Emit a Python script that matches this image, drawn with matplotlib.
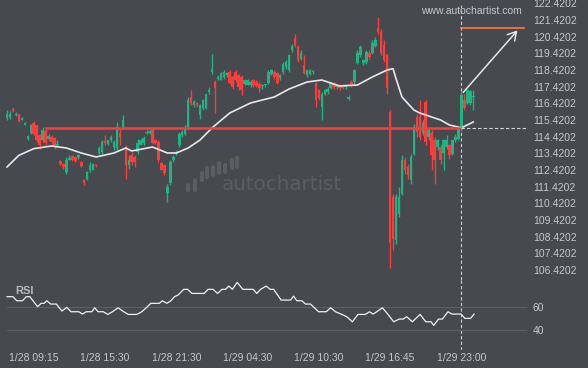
import numpy as np
import matplotlib
matplotlib.use("Agg")
import matplotlib.pyplot as plt
from matplotlib.lines import Line2D

# ---- data ----
opens = [115.54, 115.6, 116.1, 115.7, 115.75, 115.45, 115.15, 114.3, 114.65, 115.25,
         115.1, 114.5, 114.2, 114.75, 114.3, 114.4, 114.35, 113.9, 112.95, 112.8,
         112.3, 113.05, 113.25, 113.2, 113.2, 112.9, 111.85, 111.9, 112.4, 112.45,
         112.7, 113.45, 113.5, 114.15, 114.0, 114.2, 113.8, 113.75, 114.65, 115.0,
         113.8, 112.7, 113.3, 113.2, 113.5, 113.95, 114.05, 114.65, 114.65, 114.95,
         114.2, 114.1, 112.85, 112.7, 111.05, 111.65, 113.0, 113.4, 113.9, 114.5,
         114.6, 115.0, 116.8, 116.35, 116.45, 115.7, 116.15, 116.15, 117.1, 118.3,
         117.7, 117.9, 117.85, 118.0, 118.1, 118.3, 118.0, 118.3, 118.1, 118.0,
         117.6, 117.55, 117.5, 117.8, 117.7, 117.6, 117.45, 117.5, 117.65, 118.2,
         118.3, 118.25, 117.95, 118.3, 118.6, 118.4, 119.6, 120.35, 119.8, 119.1,
         118.7, 118.1, 118.2, 118.3, 117.65, 117.2, 116.2, 117.0, 117.1, 117.35,
         117.6, 117.4, 117.55, 117.5, 117.4, 116.7, 117.7, 117.7, 118.85, 119.3,
         118.85, 118.9, 119.45, 119.45, 119.85, 120.95, 120.7, 119.95, 119.3, 115.9,
         110.8, 108.2, 109.8, 111.0, 113.0, 112.6, 111.8, 113.4, 115.6, 115.6,
         114.65, 116.5, 114.4, 114.65, 114.2, 113.8, 113.8, 113.45, 113.8, 113.9,
         113.4, 114.2, 114.3, 114.9, 116.6, 116.45, 116.45, 116.8]
highs = [116.0, 115.95, 116.2, 115.9, 115.8, 115.6, 115.3, 114.5, 115.2, 115.35,
         115.15, 114.6, 115.0, 114.9, 114.6, 114.5, 114.4, 114.2, 113.0, 112.85,
         113.2, 113.3, 113.3, 113.25, 113.4, 112.95, 111.9, 112.35, 112.9, 112.85,
         112.8, 113.85, 114.2, 114.5, 114.3, 114.5, 114.2, 115.3, 114.9, 115.7,
         113.9, 113.3, 113.5, 113.3, 114.3, 114.3, 114.45, 114.8, 114.85, 115.0,
         114.3, 114.2, 112.9, 112.8, 111.6, 113.0, 113.3, 113.6, 114.7, 114.8,
         115.1, 116.8, 117.2, 116.6, 116.5, 116.4, 116.7, 117.0, 117.4, 119.4,
         117.8, 118.1, 118.3, 118.45, 118.3, 118.4, 118.1, 118.4, 118.2, 118.1,
         117.9, 117.9, 117.8, 117.9, 117.8, 117.7, 117.6, 117.6, 118.4, 118.5,
         118.4, 118.3, 118.2, 118.9, 119.0, 119.4, 120.0, 120.6, 119.9, 119.6,
         119.3, 118.5, 118.5, 118.4, 117.7, 117.3, 117.1, 117.3, 117.4, 117.7,
         117.7, 117.6, 117.6, 117.6, 117.6, 116.9, 117.8, 118.5, 119.6, 119.9,
         119.1, 119.6, 119.6, 120.2, 120.4, 121.6, 120.9, 120.2, 119.4, 116.0,
         111.0, 111.0, 111.4, 113.3, 113.2, 112.8, 113.4, 115.2, 115.8, 116.6,
         115.4, 116.6, 114.95, 114.8, 114.4, 114.3, 114.0, 114.3, 114.5, 114.0,
         114.3, 114.6, 115.0, 117.1, 117.0, 117.3, 117.25, 117.2]
lows = [115.4, 115.5, 115.9, 115.65, 115.3, 115.4, 115.1, 114.2, 114.6, 114.5,
        114.1, 113.7, 114.1, 113.95, 114.2, 114.0, 113.7, 113.85, 112.75, 112.5,
        112.2, 113.0, 112.95, 112.9, 113.1, 112.6, 111.55, 111.85, 112.3, 112.4,
        112.6, 113.4, 113.4, 113.95, 113.9, 114.1, 113.6, 113.6, 113.9, 114.9,
        111.9, 112.5, 112.7, 112.6, 113.4, 113.9, 113.95, 114.6, 114.6, 114.0,
        114.0, 112.9, 112.4, 112.1, 110.5, 111.5, 112.9, 113.3, 113.8, 114.4,
        114.5, 114.9, 116.3, 116.2, 116.2, 115.5, 116.0, 116.1, 117.0, 118.2,
        115.85, 117.8, 117.8, 117.9, 118.0, 117.6, 117.3, 117.7, 117.2, 116.95,
        117.5, 117.5, 117.4, 117.4, 117.4, 117.1, 117.3, 117.4, 117.6, 118.1,
        117.9, 117.6, 117.8, 118.2, 118.5, 118.3, 119.5, 119.8, 118.9, 119.0,
        118.2, 118.0, 118.1, 118.2, 116.2, 116.6, 115.42, 116.9, 117.0, 117.3,
        117.3, 117.3, 117.2, 117.3, 117.3, 116.6, 117.4, 117.6, 118.8, 119.2,
        118.7, 118.8, 119.1, 119.4, 119.8, 120.6, 119.3, 118.9, 117.0, 106.55,
        107.6, 108.0, 109.6, 110.9, 112.2, 111.9, 111.6, 113.3, 114.4, 114.2,
        114.5, 113.9, 114.2, 112.4, 111.6, 113.6, 112.8, 112.4, 113.7, 113.1,
        113.3, 114.1, 114.2, 114.8, 116.0, 116.4, 116.3, 116.0]
closes = [115.78, 115.8, 115.95, 115.8, 115.35, 115.5, 115.25, 114.45, 115.1, 114.6,
          114.25, 113.9, 114.8, 114.05, 114.45, 114.1, 113.85, 114.0, 112.8, 112.6,
          113.0, 113.15, 113.0, 112.95, 113.3, 112.65, 111.65, 112.3, 112.75, 112.8,
          112.65, 113.75, 114.1, 114.05, 114.2, 114.4, 114.1, 115.0, 114.4, 115.4,
          112.7, 113.0, 112.9, 112.9, 114.05, 114.2, 114.35, 114.7, 114.75, 114.05,
          114.05, 113.0, 112.45, 112.25, 111.4, 112.9, 113.2, 113.5, 114.6, 114.7,
          114.9, 116.6, 116.45, 116.5, 116.3, 116.3, 116.6, 116.95, 117.2, 118.5,
          117.35, 118.0, 118.25, 118.3, 118.25, 117.65, 117.4, 117.8, 117.4, 117.2,
          117.8, 117.8, 117.7, 117.5, 117.45, 117.35, 117.5, 117.55, 118.3, 118.4,
          118.0, 117.65, 118.1, 118.8, 118.9, 119.3, 119.85, 119.9, 119.0, 119.45,
          118.25, 118.4, 118.4, 118.35, 116.65, 116.75, 117.0, 117.2, 117.3, 117.65,
          117.4, 117.55, 117.35, 117.35, 117.5, 116.8, 117.5, 118.4, 119.45, 119.8,
          119.0, 119.5, 119.2, 120.05, 120.2, 120.7, 119.45, 119.0, 117.35, 108.05,
          108.3, 110.8, 110.8, 113.0, 112.4, 112.1, 113.2, 115.0, 114.7, 114.4,
          115.25, 114.1, 114.8, 113.3, 113.0, 114.2, 113.0, 114.2, 114.2, 113.3,
          114.2, 114.4, 114.9, 116.9, 116.15, 117.2, 117.15, 116.85]

ma_idx = [0, 4, 9, 15, 20, 25, 30, 36, 40, 42, 49, 54, 57, 61, 65, 69, 75, 82, 90,
          95, 101, 106, 109, 112, 118, 123, 128, 130, 131, 133, 137, 139, 142, 146,
          149, 153, 157]
ma_vals = [112.6, 113.3, 113.7, 113.86, 113.74, 113.44, 113.2, 113.44, 113.74, 113.56,
           113.8, 113.44, 113.44, 113.74, 114.22, 114.94, 115.84, 116.44, 116.8,
           117.28, 117.7, 117.82, 117.64, 117.46, 117.52, 118.0, 118.42, 118.5, 117.9,
           116.8, 116.02, 115.84, 115.66, 115.42, 115.12, 114.95, 115.3]

rsi_idx = [0, 2, 3.3, 5.2, 6.5, 7.7, 9, 10.3, 11.5, 12.5, 13.4, 14.7, 16.6, 18.5, 20.1,
           21.6, 24.2, 25.4, 26.7, 28.6, 29.5, 30.7, 32.4, 34, 35.5, 37.4, 39.3, 40.8,
           43.7, 45.4, 46.9, 48.4, 51.3, 52.3, 53.8, 55.1, 56.4, 57.6, 59.5, 60.8, 62.3,
           66.4, 67.7, 69.4, 70.9, 72.4, 73.6, 74.7, 75.9, 77.5, 79.4, 82.9, 84.1, 85.4,
           87.3, 88.6, 89.8, 92.3, 95.5, 96.5, 97.6, 99.3, 100.5, 102.2, 104.9, 107.5,
           109, 110.6, 112.5, 114.4, 116.3, 118.2, 120.7, 122, 123.3, 124.5, 126.4,
           128.3, 130.2, 132.1, 133.4, 134.6, 136.5, 139.1, 141, 142.8, 143.7, 145.3,
           146.6, 148.5, 149.8, 152.9, 154.2, 156.1, 157.3]
rsi_vals = [68.6, 68.6, 65.1, 65.1, 68.6, 68.6, 64.3, 60, 62.9, 62.9, 65.1, 62.3, 62.3,
            56.3, 59.4, 55.7, 55.7, 53.7, 55.7, 55.7, 59.1, 55.7, 55.7, 53.4, 55.7,
            59.1, 55.7, 53.4, 53.4, 55.7, 59.1, 62.9, 62.9, 65.1, 62.9, 64.9, 68.6, 70,
            74.9, 74.9, 71.4, 71.4, 74.9, 74.9, 71.4, 74.9, 74.9, 77.7, 74.9, 80.9,
            74.9, 74.9, 71.4, 74.9, 77.7, 74.9, 74.9, 65.7, 65.7, 69.1, 65.1, 65.1,
            62.3, 62.3, 55.7, 55.7, 59.1, 55.7, 53.7, 51.4, 47.1, 53.4, 53.4, 55.7,
            53.7, 55.7, 59.1, 53.4, 47.1, 49.4, 49.4, 51.4, 47.1, 53.4, 47.1, 47.1, 44,
            49.4, 49.4, 55.7, 53.7, 53.7, 50, 50, 53.7]

x_tick_idx = [9, 33, 57, 81, 105, 129, 153]
x_tick_labels = ["1/28 09:15", "1/28 15:30", "1/28 21:30", "1/29 04:30",
                 "1/29 10:30", "1/29 16:45", "1/29 23:00"]
price_ticks = [106.4202 + k for k in range(17)]
rsi_ticks = [40, 60]

level_price = 114.94      # broken support line
level_start = 13
signal_idx = 153          # dotted "now" line
signal_price = 116.95
target_price = 120.92
target_end = 174

# ---- style ----
BG = "#46494e"
GREEN = "#1fb583"
RED = "#ff3b3b"
TXT = "#c6c8cb"
plt.rcParams["font.family"] = ["Liberation Sans", "DejaVu Sans"]

W, H = 588, 368
fig = plt.figure(figsize=(W / 100, H / 100), dpi=100, facecolor=BG)

def px_axes(x0, y0, x1, y1):
    return fig.add_axes([x0 / W, 1 - y1 / H, (x1 - x0) / W, (y1 - y0) / H])

ax = px_axes(0, 0, 527, 280)
rx = px_axes(0, 280, 527, 350)
xlim = (-2.36, 175.1)

for a in (ax, rx):
    a.set_facecolor(BG)
    for s in a.spines.values():
        s.set_visible(False)
    a.set_xlim(*xlim)
    a.yaxis.tick_right()
    a.tick_params(axis="y", length=0, pad=4.3, colors=TXT, labelsize=7.5)

# candles
o = np.array(opens); h = np.array(highs); l = np.array(lows); c = np.array(closes)
idx = np.arange(len(c))
cols = np.where(c >= o, GREEN, RED)
ax.vlines(idx, l, h, colors=cols, lw=1.0, zorder=2)
body = np.maximum(np.abs(c - o), 0.06)
ax.bar(idx, body, bottom=np.minimum(o, c), width=0.85, color=cols, lw=0, zorder=3)

# moving average
ax.plot(ma_idx, ma_vals, color="#e8e8e8", lw=1.2, zorder=4)

# pattern lines
ax.plot([level_start, signal_idx], [level_price, level_price], color=RED, lw=1.8, zorder=5)
ax.plot([signal_idx, xlim[1]], [level_price, level_price], color="#d8d8d8",
        lw=0.8, ls=(0, (3, 2)), zorder=5)
ax.plot([signal_idx, target_end], [target_price, target_price], color="#ff7a45", lw=1.2, zorder=5)
ax.annotate("", xy=(target_end - 1.5, target_price), xytext=(signal_idx, signal_price),
            arrowprops=dict(arrowstyle="->,head_length=0.6,head_width=0.35",
                            color="#e6e6e6", lw=1.1), zorder=6)
ax.axvline(signal_idx, ymax=0.982, color="#d0d0d0", lw=0.8, ls=(0, (3, 2)), zorder=1)
rx.axvline(signal_idx, color="#d0d0d0", lw=0.8, ls=(0, (3, 2)), zorder=1)

ax.set_ylim(105.82, 122.62)
ax.set_yticks(price_ticks)
ax.set_yticklabels([f"{v:.4f}" for v in price_ticks])
ax.set_xticks([])

# RSI panel
rx.set_ylim(22.9, 82.9)
for v in rsi_ticks:
    rx.plot([0, xlim[1]], [v, v], color="#5c5f64", lw=0.8, zorder=1)
rx.plot(rsi_idx, rsi_vals, color="#f0f0f0", lw=0.9, zorder=3)
rx.set_yticks(rsi_ticks)
rx.set_xticks(x_tick_idx)
rx.set_xticklabels(x_tick_labels)
rx.tick_params(axis="x", length=0, pad=2.5, colors=TXT, labelsize=7.5)
rx.text(0.028, 0.84, "RSI", transform=rx.transAxes, color="#b8babd",
        fontsize=8, fontweight="bold", va="center", ha="left")

# watermarks
fig.text(522 / W, 1 - 11 / H, "www.autochartist.com", color=TXT, fontsize=7.5,
         ha="right", va="center")
fig.text(222 / W, 1 - 185 / H, "autochartist", color="#5a5d62", fontsize=14.3,
         ha="left", va="center", family=["DejaVu Sans"])
bars = [(188, 185, 190), (195, 180, 190), (202, 173, 180), (207, 168, 177),
        (213, 167, 175), (219, 163, 173), (225, 165, 172), (232, 160, 168), (237, 158, 167)]
for bx, t, b in bars:
    fig.add_artist(Line2D([bx / W, bx / W], [1 - t / H, 1 - b / H], color="#5a5d62",
                          lw=3, solid_capstyle="round"))

fig.savefig("out.png", dpi=100, facecolor=BG)
